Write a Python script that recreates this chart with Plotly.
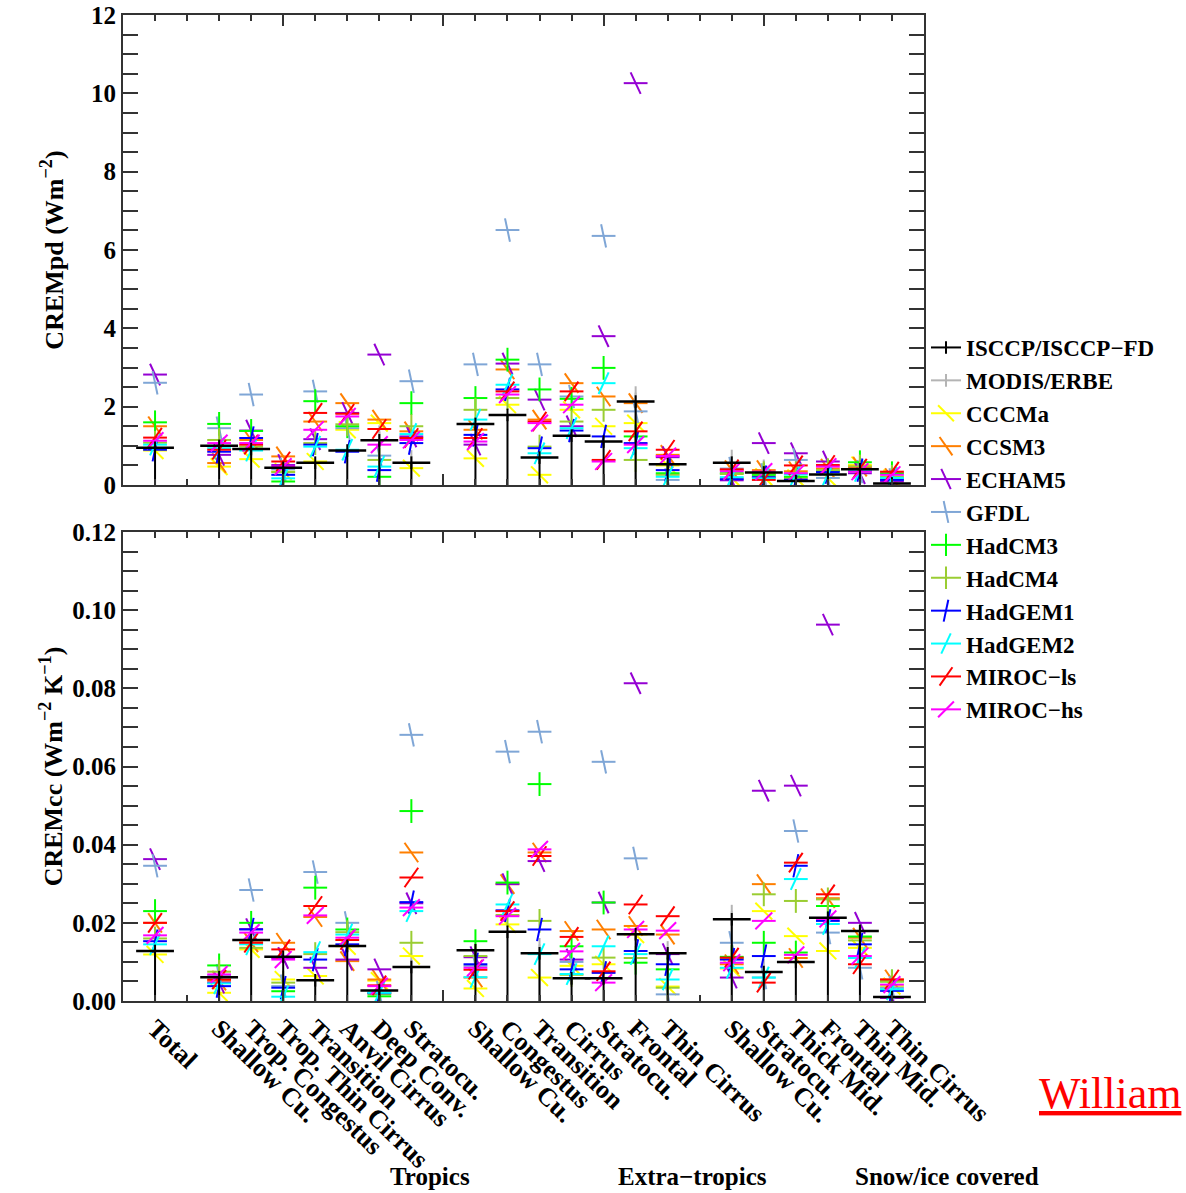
import plotly.graph_objects as go

# ---------------- categories ----------------
group_names = ["", "Tropics", "Extra−tropics", "Snow/ice covered"]
cats_total = ["Total"]
cats_tropics = ["Shallow Cu.", "Trop. Congestus", "Trop. Thin Cirrus", "Transition",
                "Anvil Cirrus", "Deep Conv.", "Stratocu."]
cats_extra = ["Shallow Cu.", "Congestus", "Transition", "Cirrus", "Stratocu.",
              "Frontal", "Thin Cirrus"]
cats_snow = ["Shallow Cu.", "Stratocu.", "Thick Mid.", "Frontal", "Thin Mid.", "Thin Cirrus"]

model_names = ["CCCMa", "CCSM3", "ECHAM5", "GFDL", "HadCM3", "HadCM4",
               "HadGEM1", "HadGEM2", "MIROC−ls", "MIROC−hs"]

# ---------------- CREMpd (W m-2) ----------------
pd_isccp = [0.95, 1.00, 0.92, 0.44, 0.57, 0.88, 1.14, 0.57, 1.56, 1.79, 0.70, 1.26, 1.11, 2.13, 0.53,
            0.57, 0.32, 0.10, 0.27, 0.40, 0.04]
pd_modis = [None, None, None, None, None, None, 1.36, 0.73, None, None, None, None, None, 2.36, None,
            0.74, 0.49, None, None, None, None]
pd_cccma = [0.88, 0.47, 0.66, 0.34, 0.60, 1.41, 1.58, 0.43, 0.68, 2.05, 0.26, 1.92, 1.50, 1.58, 0.50,
            0.18, 0.21, 0.18, 0.18, 0.51, 0.18]
pd_ccsm3 = [1.50, 0.56, 1.15, 0.73, 1.62, 2.09, 1.67, 1.37, 1.41, 2.95, 1.67, 2.60, 2.26, 2.09, 0.77,
            0.38, 0.38, 0.35, 0.42, 0.47, 0.18]
pd_echam5 = [2.82, 0.77, 1.39, 0.51, 1.17, 1.84, 3.33, 1.24, 1.03, 3.10, 2.18, 1.50, 3.80, 10.26, 0.71,
             0.12, 1.07, 0.81, 0.60, 0.30, 0.09]
pd_gfdl = [2.61, 1.45, 2.31, 0.40, 2.39, 1.45, 0.75, 2.65, 3.08, 6.51, 3.08, 2.26, 6.36, 1.88, 0.13,
           0.42, 0.26, 0.64, 0.18, 0.34, 0.13]
pd_hadcm3 = [1.60, 1.56, 1.38, 0.09, 2.14, 1.50, 0.21, 2.09, 2.22, 3.20, 2.44, 2.20, 2.99, 1.24, 0.30,
             0.30, 0.26, 0.21, 0.36, 0.58, 0.30]
pd_hadcm4 = [1.08, 1.15, 0.98, 0.33, 1.07, 1.55, 0.64, 1.50, 1.92, 2.22, 0.98, 1.62, 1.92, 0.64, 0.26,
             0.28, 0.30, 0.30, 0.38, 0.47, 0.21]
pd_hadgem1 = [0.90, 0.85, 1.20, 0.26, 1.03, 0.85, 0.38, 1.07, 1.28, 2.44, 0.94, 1.39, 1.24, 1.07, 0.38,
              0.15, 0.20, 0.14, 0.33, 0.38, 0.13]
pd_hadgem2 = [1.03, 0.94, 0.88, 0.17, 0.98, 0.90, 0.47, 1.30, 1.67, 2.56, 0.81, 1.45, 2.60, 0.94, 0.21,
              0.20, 0.17, 0.27, 0.27, 0.36, 0.18]
pd_miroc_ls = [1.21, 0.90, 1.03, 0.60, 1.84, 1.82, 1.43, 1.20, 1.20, 2.39, 1.62, 2.39, 0.64, 1.37, 0.90,
               0.40, 0.13, 0.50, 0.51, 0.42, 0.34]
pd_miroc_hs = [1.13, 1.07, 1.07, 0.47, 1.41, 1.75, 1.03, 1.15, 1.11, 2.31, 1.58, 2.05, 0.60, 1.03, 0.74,
               0.35, 0.34, 0.30, 0.47, 0.34, 0.26]

# ---------------- CREMcc (W m-2 K-1) ----------------
cc_isccp = [0.0128, 0.0061, 0.0156, 0.0113, 0.0053, 0.0141, 0.0027, 0.0087, 0.0130, 0.0177, 0.0122,
            0.0058, 0.0058, 0.0171, 0.0122, 0.0209, 0.0074, 0.0100, 0.0213, 0.0179, 0.0010]
cc_modis = [None, None, None, None, None, None, None, 0.0106, None, None, 0.0145, None, None, None,
            0.0137, 0.0230, 0.0091, None, None, None, None]
cc_cccma = [0.0119, 0.0021, 0.0132, 0.0055, 0.0064, 0.0140, 0.0052, 0.0115, 0.0032, 0.0196, 0.0060,
            0.0090, 0.0094, 0.0170, 0.0037, 0.0083, 0.0230, 0.0166, 0.0128, 0.0136, 0.0038]
cc_ccsm3 = [0.0200, 0.0052, 0.0150, 0.0149, 0.0215, 0.0102, 0.0055, 0.0380, 0.0060, 0.0299, 0.0380,
            0.0179, 0.0183, 0.0192, 0.0170, 0.0094, 0.0299, 0.0110, 0.0263, 0.0162, 0.0055]
cc_echam5 = [0.0363, 0.0047, 0.0184, 0.0110, 0.0085, 0.0106, 0.0081, 0.0250, 0.0112, 0.0299, 0.0358,
             0.0106, 0.0252, 0.0813, 0.0120, 0.0060, 0.0538, 0.0551, 0.0963, 0.0200, 0.0008]
cc_gfdl = [0.0346, 0.0065, 0.0284, 0.0038, 0.0330, 0.0200, 0.0022, 0.0681, 0.0090, 0.0638, 0.0689,
           0.0100, 0.0612, 0.0365, 0.0017, 0.0149, 0.0060, 0.0435, 0.0175, 0.0085, 0.0034]
cc_hadcm3 = [0.0230, 0.0091, 0.0200, 0.0025, 0.0290, 0.0183, 0.0012, 0.0486, 0.0153, 0.0303, 0.0555,
             0.0140, 0.0252, 0.0098, 0.0081, 0.0113, 0.0149, 0.0124, 0.0243, 0.0165, 0.0050]
cc_hadcm4 = [0.0160, 0.0075, 0.0136, 0.0047, 0.0120, 0.0176, 0.0018, 0.0149, 0.0115, 0.0220, 0.0205,
             0.0067, 0.0111, 0.0110, 0.0034, 0.0109, 0.0273, 0.0256, 0.0260, 0.0155, 0.0050]
cc_hadgem1 = [0.0153, 0.0038, 0.0183, 0.0034, 0.0106, 0.0145, 0.0020, 0.0253, 0.0094, 0.0232, 0.0183,
              0.0081, 0.0072, 0.0128, 0.0094, 0.0106, 0.0115, 0.0346, 0.0205, 0.0145, 0.0026]
cc_hadgem2 = [0.0145, 0.0045, 0.0145, 0.0011, 0.0125, 0.0170, 0.0021, 0.0230, 0.0061, 0.0247, 0.0120,
              0.0069, 0.0140, 0.0120, 0.0055, 0.0085, 0.0060, 0.0312, 0.0197, 0.0110, 0.0030]
cc_miroc_ls = [0.0200, 0.0055, 0.0149, 0.0132, 0.0243, 0.0156, 0.0040, 0.0316, 0.0080, 0.0230, 0.0371,
               0.0164, 0.0076, 0.0247, 0.0217, 0.0111, 0.0047, 0.0354, 0.0273, 0.0094, 0.0055]
cc_miroc_hs = [0.0168, 0.0068, 0.0175, 0.0106, 0.0219, 0.0162, 0.0038, 0.0239, 0.0085, 0.0217, 0.0388,
               0.0127, 0.0047, 0.0183, 0.0180, 0.0098, 0.0205, 0.0118, 0.0210, 0.0115, 0.0042]

pd_models = [pd_cccma, pd_ccsm3, pd_echam5, pd_gfdl, pd_hadcm3, pd_hadcm4,
             pd_hadgem1, pd_hadgem2, pd_miroc_ls, pd_miroc_hs]
cc_models = [cc_cccma, cc_ccsm3, cc_echam5, cc_gfdl, cc_hadcm3, cc_hadcm4,
             cc_hadgem1, cc_hadgem2, cc_miroc_ls, cc_miroc_hs]

# ---------------- styles ----------------
model_colors = ["#ffff00", "#ff7f00", "#9400d3", "#7fa6d6", "#00ff00", "#9acd32",
                "#0000ff", "#00ffff", "#ff0000", "#ff00ff"]
model_tilts = [-45, -35, -25, -12, 0, 0, 12, 25, 35, 45]
FONT = "Liberation Serif"

# ---------------- slot positions (gap between groups) ----------------
all_groups = [cats_total, cats_tropics, cats_extra, cats_snow]
slots, labels = [], []
pos = 0
for g in all_groups:
    for c in g:
        slots.append(pos)
        labels.append(c)
        pos += 1
    pos += 1
x_lo, x_hi = -1, pos - 1
tick_slots = list(range(x_lo, x_hi + 1))
tick_text = [labels[slots.index(s)] if s in slots else "" for s in tick_slots]
long_ticks = list(range(x_lo, x_hi + 1, 5))


def gapped(xs, ys):
    gx, gy = [], []
    for a, b in zip(xs, ys):
        gx += [a, None]
        gy += [b, None]
    return gx, gy


fig = go.Figure()


def add_panel(xa, xa_obs, ya, obs, modis, models, show):
    # MODIS/ERBE grey stems
    gx, gy = gapped(slots, modis)
    fig.add_trace(go.Scatter(
        x=gx, y=gy, xaxis=xa, yaxis=ya, mode="lines+markers", name="MODIS/ERBE",
        line=dict(color="#b4b4b4", width=2),
        marker=dict(symbol="line-ns", size=9, color="#b4b4b4", line=dict(color="#b4b4b4", width=2)),
        error_y=dict(type="data", symmetric=False, array=[0 if v is not None else None for v in gy],
                     arrayminus=gy, color="#b4b4b4", thickness=2, width=0),
        showlegend=show, legendrank=2))
    # models
    for k, (name, vals) in enumerate(zip(model_names, models)):
        col = model_colors[k]
        fig.add_trace(go.Scatter(
            x=slots, y=vals, xaxis=xa, yaxis=ya, mode="markers", showlegend=False,
            marker=dict(symbol="line-ew", size=17, color=col, line=dict(color=col, width=2)),
            hoverinfo="skip"))
        gx, gy = gapped(slots, vals)
        fig.add_trace(go.Scatter(
            x=gx, y=gy, xaxis=xa, yaxis=ya, mode="lines+markers", name=name,
            line=dict(color=col, width=2),
            marker=dict(symbol="line-ns", size=17, angle=model_tilts[k], color=col,
                        line=dict(color=col, width=2)),
            showlegend=show, legendrank=3 + k))
    # ISCCP black stems + horizontal bar
    fig.add_trace(go.Scatter(
        x=slots, y=obs, xaxis=xa_obs, yaxis=ya, mode="markers", showlegend=False,
        marker=dict(symbol="line-ew", size=27, color="black", line=dict(color="black", width=2.5)),
        error_y=dict(type="data", symmetric=False, array=[0] * len(obs), arrayminus=obs,
                     color="black", thickness=2, width=0),
        hoverinfo="skip"))
    gx, gy = gapped(slots, obs)
    fig.add_trace(go.Scatter(
        x=gx, y=gy, xaxis=xa_obs, yaxis=ya, mode="lines+markers", name="ISCCP/ISCCP−FD",
        line=dict(color="black", width=2),
        marker=dict(symbol="line-ns", size=9, color="black", line=dict(color="black", width=2)),
        showlegend=show, legendrank=1))


add_panel("x", "x3", "y", pd_isccp, pd_modis, pd_models, True)
add_panel("x2", "x4", "y2", cc_isccp, cc_modis, cc_models, False)

axis_line = dict(showline=True, linecolor="#333333", linewidth=2, mirror="allticks",
                 showgrid=False, zeroline=False, automargin=False, ticks="inside",
                 tickcolor="#333333", tickwidth=1.5)

x_common = dict(range=[x_lo, x_hi], tickmode="array", tickvals=tick_slots, ticklen=6, **axis_line)
x_long = dict(range=[x_lo, x_hi], tickmode="array", tickvals=long_ticks, ticklen=11,
              ticks="inside", tickcolor="#333333", tickwidth=1.5, mirror="allticks",
              showline=False, showgrid=False, zeroline=False, showticklabels=False, automargin=False)

top_dom = [(1001 - 485) / 986, 1.0]
bot_dom = [0.0, (1001 - 532) / 986]
tickfont = dict(family=FONT, size=25, color="black", weight="bold")

fig.update_layout(
    template="none",
    width=1186, height=1193,
    margin=dict(l=123, r=262, t=15, b=192),
    paper_bgcolor="white", plot_bgcolor="white",
    font=dict(family=FONT, color="black"),
    xaxis=dict(anchor="y", domain=[0, 1], showticklabels=False, **x_common),
    xaxis2=dict(anchor="y2", domain=[0, 1], ticktext=tick_text, tickangle=44,
                tickfont=dict(family=FONT, size=26, color="black", weight="bold"), **x_common),
    xaxis3=dict(overlaying="x", anchor="y", **x_long),
    xaxis4=dict(overlaying="x2", anchor="y2", **x_long),
    yaxis=dict(anchor="x", domain=top_dom, range=[0, 12], tickmode="array",
               tickvals=[0, 2, 4, 6, 8, 10, 12], ticklen=15, tickfont=tickfont,
               minor=dict(dtick=0.5, tick0=0, ticks="inside", ticklen=8, tickcolor="#333333"),
               title=dict(text="CREMpd (Wm<sup>−2</sup>)", standoff=20,
                          font=dict(family=FONT, size=26, color="black", weight="bold")),
               **axis_line),
    yaxis2=dict(anchor="x2", domain=bot_dom, range=[0, 0.12], tickmode="linear", tick0=0,
                dtick=0.02, tickformat=".2f", ticklen=15, tickfont=tickfont,
                minor=dict(dtick=0.005, tick0=0, ticks="inside", ticklen=8, tickcolor="#333333"),
                title=dict(text="CREMcc (Wm<sup>−2</sup> K<sup>−1</sup>)", standoff=2,
                           font=dict(family=FONT, size=26, color="black", weight="bold")),
                **axis_line),
    legend=dict(x=(926 - 123) / 801, y=(1001 - 326) / 986, xanchor="left", yanchor="top",
                font=dict(family=FONT, size=23, color="black", weight="bold"),
                bgcolor="rgba(0,0,0,0)", borderwidth=0, itemwidth=30, traceorder="normal"),
    showlegend=True,
)

group_x_px = [430, 692, 947]
for name, px in zip(group_names[1:], group_x_px):
    fig.add_annotation(text=name, xref="paper", yref="paper", x=(px - 123) / 801,
                       y=(1001 - 1176) / 986, showarrow=False, xanchor="center", yanchor="middle",
                       font=dict(family=FONT, size=25, color="black", weight="bold"))

fig.add_annotation(text="<u>William</u>", xref="paper", yref="paper", x=(1037 - 123) / 801,
                   y=(1001 - 1093) / 986, showarrow=False, xanchor="left", yanchor="middle",
                   font=dict(family=FONT, size=44, color="#ff0000"))

fig.write_html("out.html")
